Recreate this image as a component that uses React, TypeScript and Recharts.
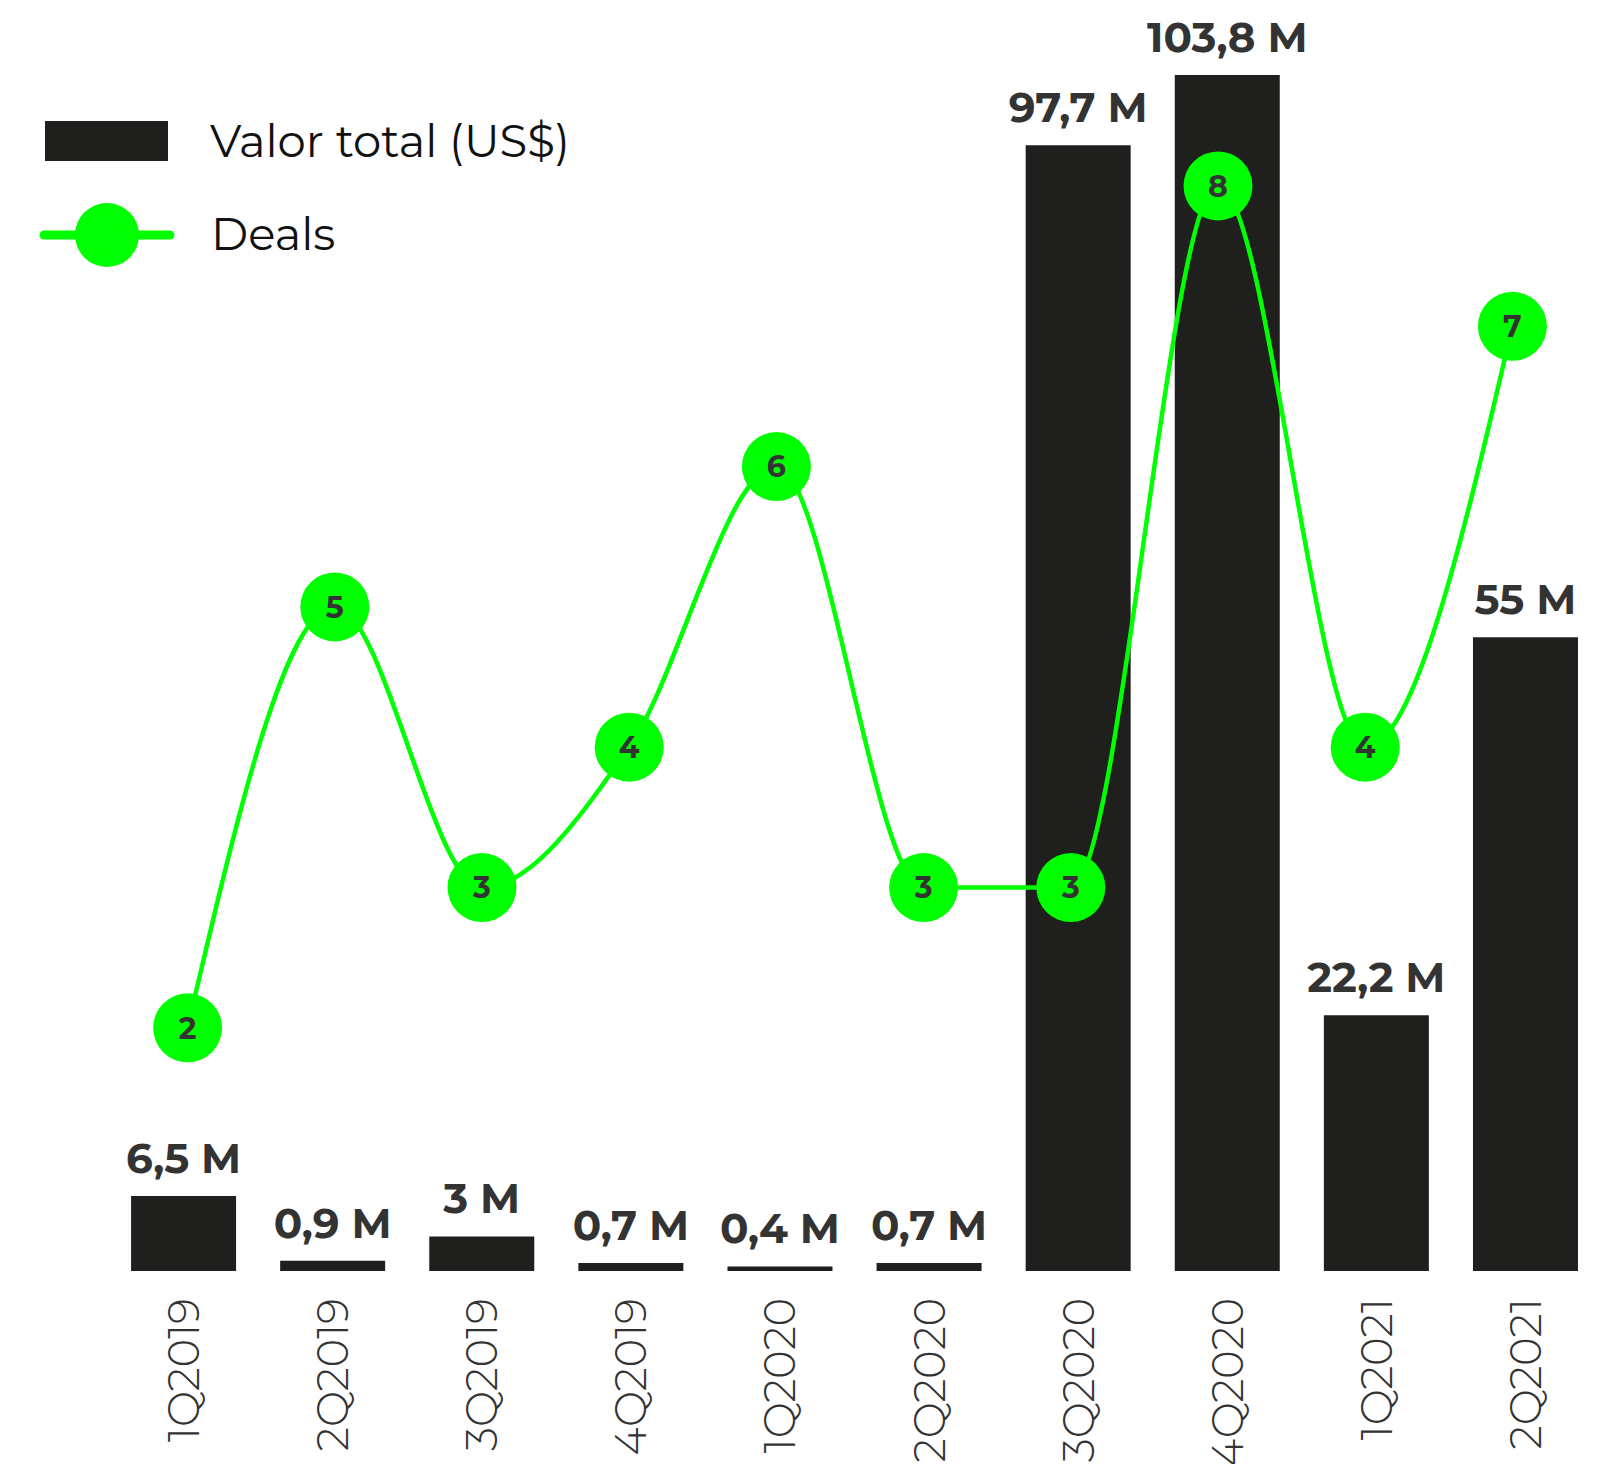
import React from 'react';
import { ComposedChart, Bar, Line, XAxis, YAxis, LabelList, Legend } from 'recharts';

const trimestres = ['1Q2019', '2Q2019', '3Q2019', '4Q2019', '1Q2020', '2Q2020', '3Q2020', '4Q2020', '1Q2021', '2Q2021'];
const valorTotal = [6.5, 0.9, 3, 0.7, 0.4, 0.7, 97.7, 103.8, 22.2, 55];
const deals = [2, 5, 3, 4, 6, 3, 3, 8, 4, 7];

const data = trimestres.map((q, i) => ({ q, valor: valorTotal[i], deals: deals[i] }));

const FONT = 'Montserrat, "Noto Sans", "Open Sans", sans-serif';
const BAR_COLOR = '#1f1f1e';
const GREEN = '#00ff00';
const TEXT = '#333333';

const fmtM = (v: number) => `${String(v).replace('.', ',')} M`;

const QuarterTick = (props: any) => {
  const { x, y, payload } = props;
  return (
    <text
      transform={`translate(${x},${y + 19}) rotate(-90)`}
      textAnchor="end"
      dy="0.36em"
      fontFamily={FONT}
      fontWeight={300}
      fontSize={43}
      fill={TEXT}
    >
      {payload.value}
    </text>
  );
};

const BarValueLabel = (props: any) => {
  const { x, y, width, value } = props;
  return (
    <text
      x={x + width / 2}
      y={y - 23}
      textAnchor="middle"
      fontFamily={FONT}
      fontWeight={700}
      fontSize={42}
      fill={TEXT}
    >
      {fmtM(value)}
    </text>
  );
};

const DealDot = (props: any) => {
  const { cx, cy } = props;
  if (cx == null || cy == null) return null;
  return <circle cx={cx} cy={cy} r={34.5} fill={GREEN} />;
};

const DealLabel = (props: any) => {
  const { x, y, value } = props;
  return (
    <text
      x={x}
      y={y}
      dy="0.36em"
      textAnchor="middle"
      fontFamily={FONT}
      fontWeight={700}
      fontSize={30}
      fill={TEXT}
    >
      {value}
    </text>
  );
};

const LegendBox = () => (
  <svg width={600} height={280} style={{ display: 'block' }}>
    <rect x={45} y={121} width={123} height={40} fill={BAR_COLOR} />
    <text x={210} y={157} fontFamily={FONT} fontSize={45} fontWeight={400} fill="#111">
      Valor total (US$)
    </text>
    <line x1={44} y1={235} x2={170} y2={235} stroke={GREEN} strokeWidth={9} strokeLinecap="round" />
    <circle cx={107} cy={235} r={32} fill={GREEN} />
    <text x={211} y={250} fontFamily={FONT} fontSize={45} fontWeight={400} fill="#111">
      Deals
    </text>
  </svg>
);

export default function App() {
  return (
    <div style={{ position: 'absolute', left: 0, top: 0, width: 1610, height: 1464, background: '#fff' }}>
      <ComposedChart
        width={1610}
        height={1464}
        data={data}
        margin={{ top: 75, right: 10, bottom: 13, left: 109 }}
        barCategoryGap="14.8%"
      >
        <XAxis
          dataKey="q"
          axisLine={false}
          tickLine={false}
          interval={0}
          height={180}
          tick={<QuarterTick />}
        />
        {/* the deals line sits on a slightly narrower category band */}
        <XAxis xAxisId="line" dataKey="q" hide padding={{ left: 5, right: 14 }} />
        <YAxis yAxisId="valor" hide domain={[0, 103.8]} allowDataOverflow />
        <YAxis yAxisId="deals" hide domain={[0.267, 8.791]} allowDataOverflow />
        <Legend
          layout="horizontal"
          verticalAlign="middle"
          align="center"
          wrapperStyle={{ position: 'absolute', left: 0, top: 0, width: 600, height: 280 }}
          content={<LegendBox />}
        />
        <Bar yAxisId="valor" dataKey="valor" name="Valor total (US$)" fill={BAR_COLOR} isAnimationActive={false}>
          <LabelList dataKey="valor" content={<BarValueLabel />} />
        </Bar>
        <Line
          xAxisId="line"
          yAxisId="deals"
          type="monotone"
          dataKey="deals"
          name="Deals"
          stroke={GREEN}
          strokeWidth={4.5}
          dot={<DealDot />}
          activeDot={false}
          isAnimationActive={false}
        >
          <LabelList dataKey="deals" content={<DealLabel />} />
        </Line>
      </ComposedChart>
    </div>
  );
}
